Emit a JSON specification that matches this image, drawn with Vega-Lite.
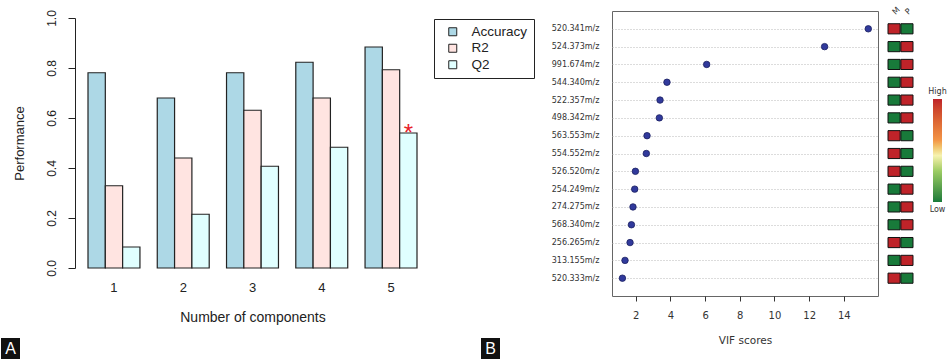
{
  "$schema": "https://vega.github.io/schema/vega-lite/v6.json",
  "padding": {"left": 0, "top": 4, "right": 0, "bottom": 0},
  "autosize": {"type": "pad"},
  "background": "white",
  "config": {"font": "Liberation Sans", "view": {"stroke": "transparent"}},
  "datasets": {
    "perf": [
      {"comp": "1", "metric": "Accuracy", "value": 0.781},
      {"comp": "1", "metric": "R2", "value": 0.329},
      {"comp": "1", "metric": "Q2", "value": 0.084},
      {"comp": "2", "metric": "Accuracy", "value": 0.68},
      {"comp": "2", "metric": "R2", "value": 0.44},
      {"comp": "2", "metric": "Q2", "value": 0.215},
      {"comp": "3", "metric": "Accuracy", "value": 0.781},
      {"comp": "3", "metric": "R2", "value": 0.631},
      {"comp": "3", "metric": "Q2", "value": 0.407},
      {"comp": "4", "metric": "Accuracy", "value": 0.823},
      {"comp": "4", "metric": "R2", "value": 0.68},
      {"comp": "4", "metric": "Q2", "value": 0.483},
      {"comp": "5", "metric": "Accuracy", "value": 0.884},
      {"comp": "5", "metric": "R2", "value": 0.793},
      {"comp": "5", "metric": "Q2", "value": 0.54, "note": "*"}
    ],
    "vip": [
      {"feature": "520.341m/z", "vif": 15.41, "M": 1, "P": 0},
      {"feature": "524.373m/z", "vif": 12.89, "M": 0, "P": 1},
      {"feature": "991.674m/z", "vif": 6.09, "M": 0, "P": 1},
      {"feature": "544.340m/z", "vif": 3.8, "M": 0, "P": 1},
      {"feature": "522.357m/z", "vif": 3.4, "M": 0, "P": 1},
      {"feature": "498.342m/z", "vif": 3.36, "M": 0, "P": 1},
      {"feature": "563.553m/z", "vif": 2.65, "M": 1, "P": 0},
      {"feature": "554.552m/z", "vif": 2.61, "M": 1, "P": 0},
      {"feature": "526.520m/z", "vif": 1.98, "M": 1, "P": 0},
      {"feature": "254.249m/z", "vif": 1.94, "M": 0, "P": 1},
      {"feature": "274.275m/z", "vif": 1.84, "M": 0, "P": 1},
      {"feature": "568.340m/z", "vif": 1.75, "M": 0, "P": 1},
      {"feature": "256.265m/z", "vif": 1.67, "M": 1, "P": 0},
      {"feature": "313.155m/z", "vif": 1.38, "M": 0, "P": 1},
      {"feature": "520.333m/z", "vif": 1.23, "M": 1, "P": 0}
    ],
    "panels": [{"panel": "A"}, {"panel": "B"}]
  },
  "hconcat": [
    {
      "vconcat": [
        {
          "width": 503,
          "height": 267,
          "data": {"name": "perf"},
          "layer": [
            {
              "mark": {"type": "bar", "stroke": "#222", "strokeWidth": 1.2},
              "encoding": {
                "x": {
                  "field": "comp", "type": "ordinal",
                  "scale": {"paddingInner": 0.25, "paddingOuter": 0, "range": [87, 416]},
                  "axis": {"labelAngle": 0, "domain": false, "ticks": false, "labelPadding": 3, "labelFontSize": 13, "labelColor": "#222", "title": "Number of components", "titleFontSize": 14, "titleFontWeight": "normal", "titlePadding": 16, "titleColor": "#222"}
                },
                "xOffset": {"field": "metric", "sort": ["Accuracy", "R2", "Q2"], "scale": {"paddingInner": 0, "paddingOuter": 0}},
                "y": {
                  "field": "value", "type": "quantitative",
                  "scale": {"domain": [0, 1], "range": [257, 7], "nice": false},
                  "axis": {"values": [0, 0.2, 0.4, 0.6, 0.8, 1], "format": ".1f", "labelAngle": -90, "labelAlign": "center", "labelBaseline": "bottom", "labelPadding": 10, "labelFontSize": 12, "labelColor": "#222", "tickSize": 7, "tickColor": "#222", "domainColor": "#222", "grid": false, "offset": -74, "title": "Performance", "titleFontSize": 13, "titleFontWeight": "normal", "titleColor": "#222", "titlePadding": 19}
                },
                "color": {
                  "field": "metric", "type": "nominal",
                  "scale": {"domain": ["Accuracy", "R2", "Q2"], "range": ["#add8e6", "#ffe4e1", "#e0ffff"]},
                  "legend": {"title": null, "orient": "none", "legendX": 433, "legendY": 8, "strokeColor": "#222", "fillColor": "white", "padding": 6, "symbolType": "square", "symbolSize": 64, "symbolStrokeColor": "#222", "symbolStrokeWidth": 1, "symbolOffset": 6, "labelFontSize": 13.5, "labelColor": "#222", "labelOffset": 12, "rowPadding": 1.5}
                }
              }
            },
            {
              "mark": {"type": "text", "color": "#e8202a", "fontSize": 24, "baseline": "alphabetic", "dy": 8},
              "transform": [{"filter": "datum.note != null"}],
              "encoding": {
                "x": {"field": "comp", "type": "ordinal"},
                "xOffset": {"field": "metric", "sort": ["Accuracy", "R2", "Q2"]},
                "y": {"field": "value", "type": "quantitative"},
                "text": {"field": "note"}
              }
            }
          ]
        },
        {
          "hconcat": [
            {
              "width": 19, "height": 21,
              "view": {"fill": "#111", "stroke": null},
              "data": {"name": "panels"},
              "transform": [{"filter": "datum.panel == 'A'"}],
              "mark": {"type": "text", "color": "white", "fontSize": 16, "align": "center", "baseline": "middle"},
              "encoding": {"text": {"field": "panel"}}
            },
            {
              "width": 19, "height": 21,
              "view": {"fill": "#111", "stroke": null},
              "data": {"name": "panels"},
              "transform": [{"filter": "datum.panel == 'B'"}],
              "mark": {"type": "text", "color": "white", "fontSize": 16, "align": "center", "baseline": "middle"},
              "encoding": {"text": {"field": "panel"}}
            }
          ],
          "spacing": 461
        }
      ],
      "spacing": 13
    },
    {
      "hconcat": [
        {
          "width": 266,
          "height": 285,
          "data": {"name": "vip"},
          "view": {"stroke": "#666", "strokeWidth": 1},
          "mark": {"type": "circle", "size": 42, "fill": "#313a9c", "stroke": "#1b1f60", "strokeWidth": 0.8, "opacity": 1},
          "encoding": {
            "y": {
              "field": "feature", "type": "nominal", "sort": null,
              "scale": {"type": "point", "padding": 1},
              "axis": {"title": null, "ticks": false, "domain": false, "labelPadding": 13, "labelFont": "DejaVu Sans", "labelFontSize": 8, "labelColor": "#333", "grid": true, "gridColor": "#b8b8b8", "gridDash": [1, 2], "gridWidth": 1}
            },
            "x": {
              "field": "vif", "type": "quantitative",
              "scale": {"domain": [0.63, 15.97], "nice": false, "zero": false},
              "axis": {"values": [2, 4, 6, 8, 10, 12, 14], "grid": false, "domain": false, "tickSize": 5, "tickColor": "#333", "labelFont": "DejaVu Sans", "labelFontSize": 10, "labelColor": "#333", "labelPadding": 9, "title": "VIF scores", "titleFont": "DejaVu Sans", "titleFontSize": 10.5, "titleFontWeight": "normal", "titleColor": "#333", "titlePadding": 15}
            }
          }
        },
        {
          "width": 25,
          "height": 285,
          "data": {"name": "vip"},
          "transform": [{"fold": ["M", "P"], "as": ["group", "level"]}],
          "mark": {"type": "rect", "stroke": "#111", "strokeWidth": 1},
          "encoding": {
            "x": {
              "field": "group", "type": "nominal",
              "scale": {"paddingInner": 0.06, "paddingOuter": 0},
              "axis": {"orient": "top", "title": null, "domain": false, "ticks": false, "labelAngle": -45, "labelPadding": -2, "labelFont": "DejaVu Sans", "labelFontSize": 8, "labelColor": "#333", "labelAlign": "left", "labelBaseline": "middle"}
            },
            "y": {
              "field": "feature", "type": "nominal", "sort": null,
              "scale": {"paddingInner": 0.43, "paddingOuter": 0.715},
              "axis": null
            },
            "color": {
              "field": "level", "type": "quantitative",
              "scale": {"domain": [0, 0.3, 0.45, 0.6, 1], "range": ["#187a3a", "#9ccc64", "#f6f3b0", "#f39547", "#bf2329"]},
              "legend": {
                "orient": "none", "legendX": 321, "legendY": 88, "title": null, "direction": "vertical",
                "gradientLength": 103, "gradientThickness": 9, "gradientStrokeWidth": 0,
                "values": [0, 1],
                "labelExpr": "datum.value >= 1 ? 'High' : 'Low'",
                "labelFont": "DejaVu Sans", "labelFontSize": 8, "labelColor": "#333",
                "labelOffset": -4.5, "labelAlign": "center", "padding": 0,
                "encode": {"labels": {"update": {"align": {"value": "center"}, "baseline": {"signal": "datum.perc >= 1 ? 'bottom' : 'top'"}, "dy": {"signal": "datum.perc >= 1 ? -3 : 4"}}}}
              }
            }
          }
        }
      ],
      "spacing": 10,
      "bounds": "flush"
    }
  ],
  "spacing": 15
}
